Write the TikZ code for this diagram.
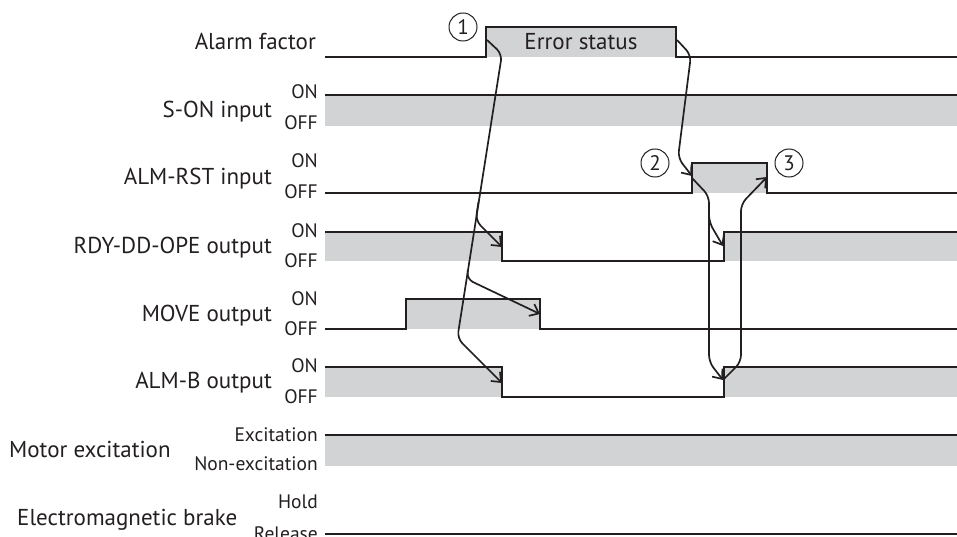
\documentclass[tikz,border=0pt]{standalone}
\usepackage{fontspec}
\setmainfont{PT Sans}
\usetikzlibrary{arrows.meta}
\definecolor{ink}{RGB}{35,31,32}
\definecolor{sig}{RGB}{209,211,212}
\tikzset{
  lbl/.style={anchor=base east,inner sep=0pt,text=ink,font=\fontsize{23}{26}\selectfont},
  lvl/.style={anchor=base east,inner sep=0pt,text=ink,font=\fontsize{19.5}{22}\selectfont},
  wave/.style={draw=ink,line width=1.2pt},
  band/.style={fill=sig,draw=none},
  cause/.style={draw=ink,line width=1.7pt,rounded corners=7pt,-{Straight Barb[length=8pt,width=13pt]}},
  num/.style={circle,draw=ink,line width=1pt,minimum size=28pt,inner sep=0pt,text=ink,font=\fontsize{21}{24}\selectfont}
}
\begin{document}
\begin{tikzpicture}[x=1pt,y=-1pt]
\useasboundingbox (0,0) rectangle (957,537);
% ---- bands
\fill[sig] (486,27) rectangle (676,57);
\fill[sig] (325,95) rectangle (957,126);
\fill[sig] (692,163) rectangle (767,193);
\fill[sig] (325,232) rectangle (502,261);
\fill[sig] (724,232) rectangle (957,261);
\fill[sig] (406,299) rectangle (540,329);
\fill[sig] (325,367) rectangle (502,397);
\fill[sig] (724,367) rectangle (957,397);
\fill[sig] (325,435) rectangle (957,466);
% ---- waveforms
\draw[wave] (325,57) -- (486,57) -- (486,27) -- (676,27) -- (676,57) -- (957,57);
\draw[wave] (325,95) -- (957,95);
\draw[wave] (325,193) -- (692,193) -- (692,163) -- (767,163) -- (767,193) -- (957,193);
\draw[wave] (325,232) -- (502,232) -- (502,261) -- (724,261) -- (724,232) -- (957,232);
\draw[wave] (325,329) -- (406,329) -- (406,299) -- (540,299) -- (540,329) -- (957,329);
\draw[wave] (325,367) -- (502,367) -- (502,397) -- (724,397) -- (724,367) -- (957,367);
\draw[wave] (325,435) -- (957,435);
\draw[wave] (325,534) -- (957,534);
% ---- labels
\node[lbl] (la) at (316,50) {Alarm factor};
\node[lbl] (ls) at (272,118) {S-ON input};
\node[lvl] (lson) at (318,99) {ON};
\node[lvl] (lsoff) at (318,130) {OFF};
\node[lbl] (lr) at (272,185) {ALM-RST input};
\node[lvl] (lron) at (318,168) {ON};
\node[lvl] (lroff) at (318,199) {OFF};
\node[lbl] (ld) at (272,253) {RDY-DD-OPE output};
\node[lvl] (ldon) at (318,237) {ON};
\node[lvl] (ldoff) at (318,267) {OFF};
\node[lbl] (lm) at (272,321) {MOVE output};
\node[lvl] (lmon) at (318,305) {ON};
\node[lvl] (lmoff) at (318,335) {OFF};
\node[lbl] (lb) at (272,388) {ALM-B output};
\node[lvl] (lbon) at (318,372) {ON};
\node[lvl] (lboff) at (318,403) {OFF};
\node[lbl,anchor=base west] (lx) at (9,457) {Motor excitation};
\node[lvl] (lxon) at (318,441) {Excitation};
\node[lvl] (lxoff) at (318,470) {Non-excitation};
\node[lbl,anchor=base west] (le) at (17,525) {Electromagnetic brake};
\node[lvl] (leon) at (318,508) {Hold};
\node[lvl] (leoff) at (318,540) {Release};
\node[lbl,anchor=base] (err) at (581,50) {Error status};
\node[num] (n1) at (463,27) {1};
\node[num] (n2) at (655,163) {2};
\node[num] (n3) at (789,163) {3};
% ---- causal arrows
\coordinate (a0) at (487,40);
\coordinate (a1) at (502,54);
\coordinate (aR) at (475.6,220.6);
\coordinate (aM) at (466.6,279);
\coordinate (aB) at (457.3,338.3);
\coordinate (tR) at (502,247);
\coordinate (tM) at (540,314);
\coordinate (tB) at (502,383);
\draw[cause] (a0) -- (a1) -- (aB) -- (tB);
\draw[cause] (478.5,202) -- (aR) -- (tR);
\draw[cause] (467.9,270) -- (aM) -- (tM);
\coordinate (b0) at (677,40);
\coordinate (b1) at (691,55);
\coordinate (b2) at (678,158);
\coordinate (tA) at (692,176);
\draw[cause] (b0) -- (b1) -- (b2) -- (tA);
\coordinate (c0) at (692,178);
\coordinate (c1) at (709,196);
\coordinate (c2) at (709,362);
\coordinate (c3) at (709,222);
\coordinate (tD) at (723,246);
\coordinate (tC) at (723,380);
\draw[cause] (c0) -- (c1) -- (c2) -- (tC);
\draw[cause] (709,210) -- (c3) -- (tD);
\coordinate (d1) at (741,362);
\coordinate (d2) at (741,204);
\coordinate (tE) at (767,177);
\draw[cause] (tC) -- (d1) -- (d2) -- (tE);
\end{tikzpicture}
\end{document}
